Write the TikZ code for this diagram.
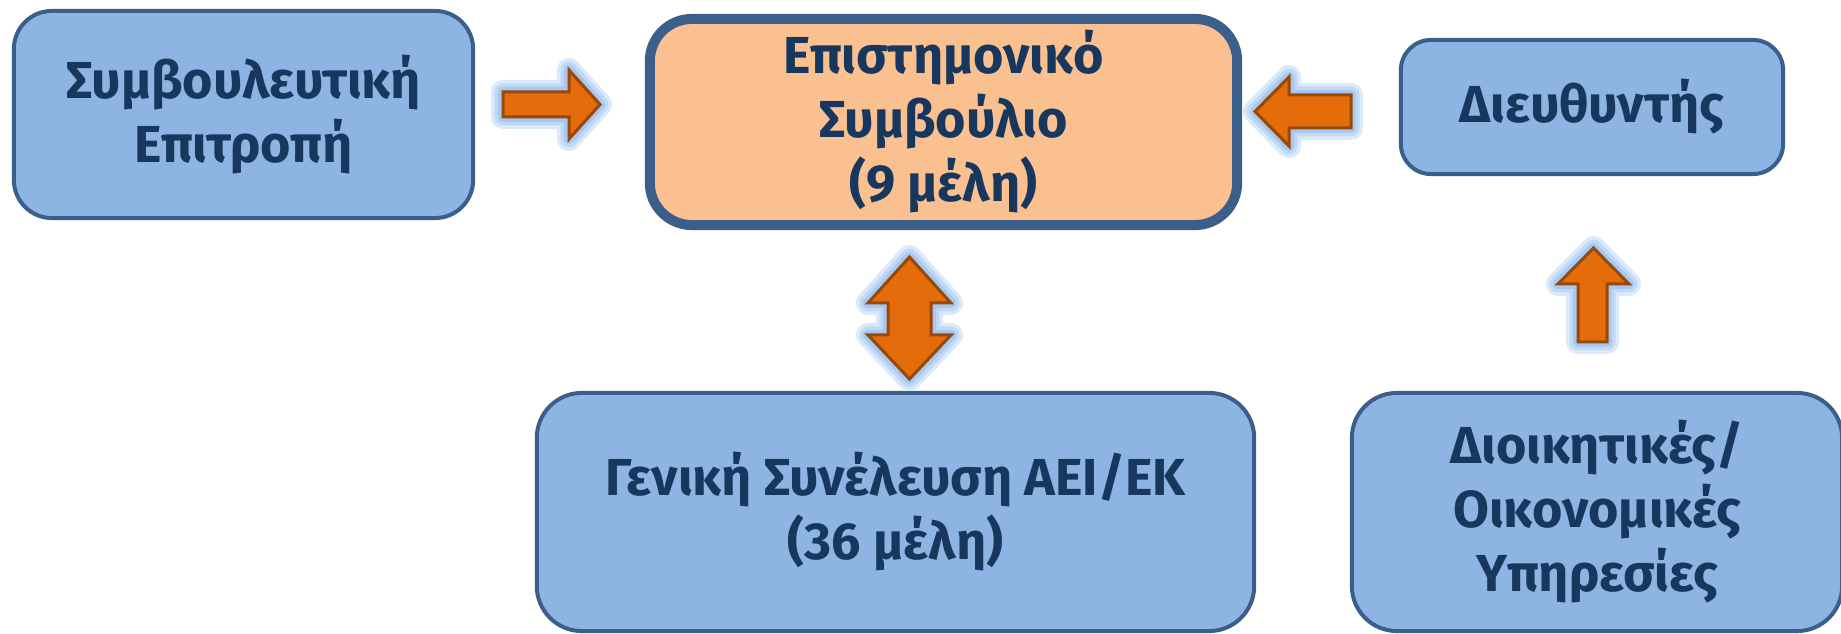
\documentclass[tikz,border=0pt]{standalone}
\usepackage{fontspec}
\setmainfont{Fira Sans}
\definecolor{boxblue}{HTML}{8EB4E3}
\definecolor{boxpeach}{HTML}{FAC090}
\definecolor{edgeblue}{HTML}{3A5F8B}
\definecolor{textnavy}{HTML}{17375E}
\definecolor{arroworange}{HTML}{E46C0A}
\definecolor{arrowbrown}{HTML}{984807}
\definecolor{glowblue}{HTML}{A7C8F2}
\tikzset{
  unitbox/.style={rectangle, rounded corners=0.38cm, draw=edgeblue, line width=0.04cm, fill=boxblue},
  blockarrow/.style={fill=arroworange, draw=arrowbrown, line width=0.03cm, line join=miter,
    preaction={draw=glowblue!40, line width=0.24cm, line join=round},
    preaction={draw=glowblue!70, line width=0.17cm, line join=round},
    preaction={draw=glowblue, line width=0.1cm, line join=round}}
}
\begin{document}
\begin{tikzpicture}[x=0.01cm, y=-0.01cm, every node/.style={text=textnavy, align=center, inner sep=0pt,
    font=\fontsize{14.8}{18.2}\selectfont\bfseries}]
\useasboundingbox (0,0) rectangle (1841,634);

\node[unitbox, minimum width=4.59cm, minimum height=2.07cm] (adv) at (243.5,114.5) {Συμβουλευτική\\Επιτροπή};
\node[unitbox, fill=boxpeach, line width=0.1cm, rounded corners=0.42cm, minimum width=5.87cm, minimum height=2.06cm] (sci) at (943.5,122) {Επιστημονικό\\Συμβούλιο\\(9 μέλη)};
\node[unitbox, rounded corners=0.3cm, minimum width=3.82cm, minimum height=1.34cm] (dir) at (1592,107) {Διευθυντής};
\node[unitbox, rounded corners=0.45cm, minimum width=7.17cm, minimum height=2.38cm] (gen) at (895.5,512) {Γενική Συνέλευση ΑΕΙ/ΕΚ\\(36 μέλη)};
\node[unitbox, rounded corners=0.45cm, minimum width=4.9cm, minimum height=2.38cm] (adm) at (1597,512) {Διοικητικές/\\Οικονομικές\\Υπηρεσίες};

% block arrows
\draw[blockarrow] (503,92) -- (569,92) -- (569,70) -- (600,104.5) -- (569,139) -- (569,117) -- (503,117) -- cycle;
\draw[blockarrow] (1351,95) -- (1289,95) -- (1289,77) -- (1255,111.5) -- (1289,146) -- (1289,128) -- (1351,128) -- cycle;
\draw[blockarrow] (888,303) -- (868,303) -- (909.5,257) -- (951,303) -- (931,303) -- (931,335) -- (951,335) -- (909.5,379) -- (868,335) -- (888,335) -- cycle;
\draw[blockarrow] (1578,342) -- (1578,284) -- (1558,284) -- (1593.5,248) -- (1629,284) -- (1607,284) -- (1607,342) -- cycle;
\end{tikzpicture}
\end{document}
